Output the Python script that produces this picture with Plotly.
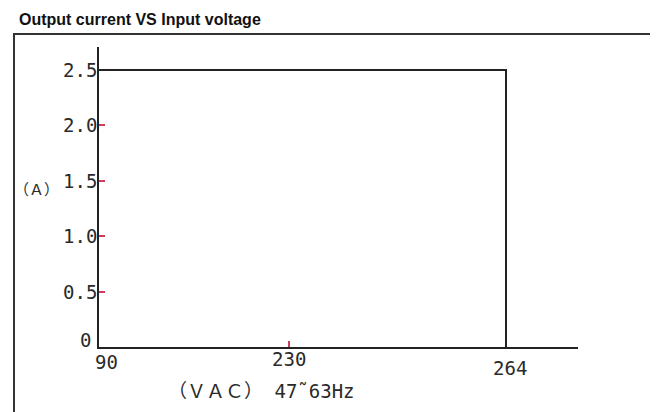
import numpy as np
import plotly.graph_objects as go

# ---- data ----
voltage_ticks = [90, 230, 264]
voltage_tick_labels = ["90", "230", "264"]
current_ticks = [0, 0.5, 1.0, 1.5, 2.0, 2.5]
current_tick_labels = ["0", "0.5", "1.0", "1.5", "2.0", "2.5"]
curve_voltage = [90, 264, 264]
curve_current = [2.5, 2.5, 0]

# ---- schematic (non-uniform) x scale, as drawn in the original ----
SCALE_DOMAIN = [90, 230, 264]
SCALE_RANGE = [0.0, 190.0, 407.0]
X_AXIS_END = 479.0
Y_AXIS_END = 2.708


def x_scale(v):
    return [float(a) for a in np.interp(v, SCALE_DOMAIN, SCALE_RANGE)]


TICK_RED = "#d23c5a"
INK = "#222222"
TXT = "#2a2a2a"
MONO = "DejaVu Sans Mono"
CJK = "Noto Sans CJK SC"


def fw(s):
    return f"<span style='font-family:{CJK}'>{s}</span>"


# page body has an 8px margin; figure is drawn in reference pixel coords
OFF = 8
W, H = 658 - OFF, 412 - OFF
PX_L, PX_R, PX_T, PX_B = 99, 578, 47, 347      # plot area in reference px
L, R, T, B = PX_L - OFF, W - (PX_R - OFF), PX_T - OFF, H - (PX_B - OFF)
pw, ph = PX_R - PX_L, PX_B - PX_T


def px2paper_x(px):
    return (px - PX_L) / pw


def px2paper_y(py):
    return (PX_B - py) / ph


# per-label offsets (style) for tick labels, in px
x_label_shift = {"90": (7, -15), "230": (0, -12), "264": (4, -21)}
y_label_shift = {"0": (-6, 7)}

fig = go.Figure()
fig.add_trace(go.Scatter(
    x=x_scale(curve_voltage), y=curve_current, mode="lines",
    line=dict(color=INK, width=2), cliponaxis=False, showlegend=False,
    hoverinfo="skip"))

annotations = [
    dict(text="<b>Output current VS Input voltage</b>", xref="paper",
         yref="paper", x=px2paper_x(17), y=px2paper_y(20),
         xanchor="left", yanchor="middle", showarrow=False,
         font=dict(family="Liberation Sans", size=16, color="#111")),
    dict(text=fw("（Ａ）"), xref="paper", yref="paper",
         x=px2paper_x(12), y=px2paper_y(188), xanchor="left",
         yanchor="middle", showarrow=False,
         font=dict(family=CJK, size=15, color=TXT)),
    dict(text=f"{fw('（ＶＡＣ）')} 47˜63Hz", xref="paper",
         yref="paper", x=px2paper_x(166), y=px2paper_y(389),
         xanchor="left", yanchor="middle", showarrow=False,
         font=dict(family=MONO, size=19, color=TXT)),
]
for v, lab in zip(x_scale(voltage_ticks), voltage_tick_labels):
    dx, dy = x_label_shift.get(lab, (0, -11))
    annotations.append(dict(
        text=lab, x=v, y=0, xref="x", yref="y", xanchor="center",
        yanchor="middle", xshift=dx, yshift=dy, showarrow=False,
        font=dict(family=MONO, size=19, color=TXT)))
for c, lab in zip(current_ticks, current_tick_labels):
    dx, dy = y_label_shift.get(lab, (0, 0))
    annotations.append(dict(
        text=lab, x=0, y=c, xref="x", yref="y", xanchor="right",
        yanchor="middle", xshift=dx, yshift=dy, showarrow=False,
        font=dict(family=MONO, size=19, color=TXT)))

fig.update_layout(
    width=W, height=H, autosize=False,
    margin=dict(l=L, r=R, t=T, b=B),
    paper_bgcolor="white", plot_bgcolor="white",
    font=dict(family=MONO, size=15, color=INK),
    xaxis=dict(range=[0, X_AXIS_END], tickvals=x_scale(voltage_ticks),
               showticklabels=False, ticks="inside", ticklen=6,
               tickcolor=TICK_RED, tickwidth=1.5, showline=True,
               linecolor=INK, linewidth=2, showgrid=False, zeroline=False,
               layer="below traces"),
    yaxis=dict(range=[0, Y_AXIS_END], tickvals=current_ticks,
               showticklabels=False, ticks="inside", ticklen=6,
               tickcolor=TICK_RED, tickwidth=1.5, showline=True,
               linecolor=INK, linewidth=2, showgrid=False, zeroline=False,
               layer="below traces"),
    shapes=[
        dict(type="path", xref="paper", yref="paper",
             path=(f"M {px2paper_x(14)} {px2paper_y(440)} "
                   f"L {px2paper_x(14)} {px2paper_y(34)} "
                   f"L {px2paper_x(656)} {px2paper_y(34)} "
                   f"L {px2paper_x(656)} {px2paper_y(440)}"),
             line=dict(color="#333", width=2)),
    ],
    annotations=annotations,
)

fig.write_html("out.html")
